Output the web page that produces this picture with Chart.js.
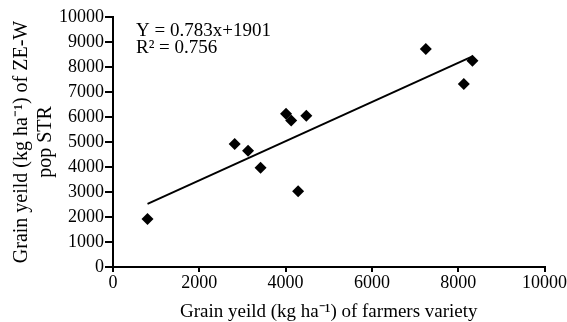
<!DOCTYPE html>
<html>
<head>
<meta charset="utf-8">
<script src="https://cdn.jsdelivr.net/npm/chart.js@4"></script>
<style>
  html, body { margin: 0; padding: 0; background: #fff; }
  #wrap { width: 567px; height: 322px; }
</style>
</head>
<body>
<div id="wrap"><canvas id="chart" width="567" height="322"></canvas></div>
<script>
// Data
const farmerYield = [800, 2820, 3130, 3420, 4010, 4130, 4290, 4480, 7250, 8130, 8330];
const strYield    = [1920, 4920, 4650, 3970, 6130, 5860, 3030, 6050, 8720, 7320, 8250];
const slope = 0.783;
const intercept = 1901;
const equationText = 'Y = 0.783x+1901';
const r2Text = 'R\u00B2 = 0.756';
const xTicks = [0, 2000, 4000, 6000, 8000, 10000];
const yTicks = [0, 1000, 2000, 3000, 4000, 5000, 6000, 7000, 8000, 9000, 10000];

const FONT = "'Liberation Serif', 'Times New Roman', serif";

const points = farmerYield.map((x, i) => ({ x: x, y: strYield[i] }));
const xMin = Math.min(...farmerYield);
const xMax = Math.max(...farmerYield);
const trend = [
    { x: xMin, y: slope * xMin + intercept },
    { x: xMax, y: slope * xMax + intercept }
];

// equation text in the top left of the plot
const equationPlugin = {
    id: 'equation',
    afterDatasetsDraw(chart) {
        const ctx = chart.ctx;
        const area = chart.chartArea;
        ctx.save();
        ctx.fillStyle = '#000';
        ctx.font = '19px ' + FONT;
        ctx.textBaseline = 'alphabetic';
        ctx.textAlign = 'left';
        ctx.fillText(equationText, area.left + 23, area.top + 19);
        ctx.fillText(r2Text, area.left + 23, area.top + 35.5);
        ctx.restore();
    }
};

const axisCommon = {
    border: { display: true, color: '#000', width: 2 },
    grid: { display: true, drawOnChartArea: false, color: '#000', lineWidth: 2, tickLength: 8 },
    ticks: { color: '#000', font: { family: FONT, size: 18 }, padding: 1 }
};

new Chart(document.getElementById('chart'), {
    type: 'scatter',
    data: {
        datasets: [
            {
                data: points,
                pointStyle: 'rectRot',
                pointRadius: 6,
                pointHoverRadius: 6,
                backgroundColor: '#000',
                borderColor: '#000',
                borderWidth: 0
            },
            {
                type: 'line',
                data: trend,
                borderColor: '#000',
                borderWidth: 2,
                pointRadius: 0,
                fill: false,
                tension: 0
            }
        ]
    },
    options: {
        responsive: false,
        animation: false,
        layout: { padding: { top: 17, right: 22, left: 0, bottom: 0 } },
        plugins: {
            legend: { display: false },
            tooltip: { enabled: false }
        },
        scales: {
            x: {
                type: 'linear',
                min: 0,
                max: 10000,
                border: axisCommon.border,
                grid: { ...axisCommon.grid, tickLength: 5 },
                ticks: {
                    ...axisCommon.ticks,
                    stepSize: 2000,
                    padding: 0,
                    maxRotation: 0,
                    callback: function(v) { return xTicks.includes(v) ? String(v) : null; }
                },
                title: {
                    display: true,
                    text: 'Grain yeild (kg ha\u207B\u00B9) of farmers variety',
                    color: '#000',
                    font: { family: FONT, size: 19, lineHeight: 1 },
                    padding: { top: 0, bottom: 0 }
                },
                afterFit: function(scale) { scale.height = 55; }
            },
            y: {
                type: 'linear',
                min: 0,
                max: 10000,
                border: axisCommon.border,
                grid: axisCommon.grid,
                ticks: {
                    ...axisCommon.ticks,
                    stepSize: 1000,
                    callback: function(v) { return yTicks.includes(v) ? String(v) : null; }
                },
                title: {
                    display: true,
                    text: ['Grain yeild (kg ha\u207B\u00B9) of ZE-W', 'pop STR'],
                    color: '#000',
                    font: { family: FONT, size: 20, lineHeight: 1.2 },
                    padding: { top: 10, bottom: 0 }
                },
                afterFit: function(scale) { scale.width = 113; }
            }
        }
    },
    plugins: [equationPlugin]
});
</script>
</body>
</html>
